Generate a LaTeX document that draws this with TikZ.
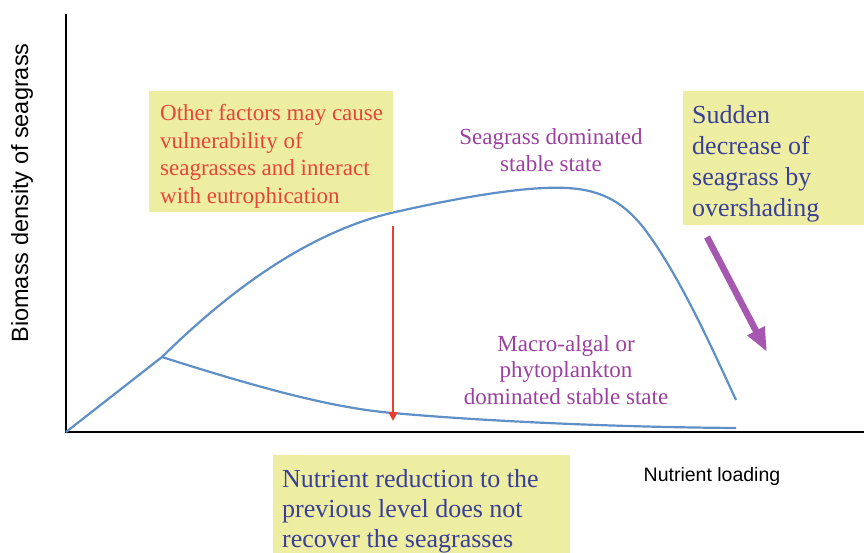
\documentclass[tikz,border=0pt]{standalone}
\usepackage{fontspec}
\setmainfont{Liberation Serif}
\newfontfamily\axisfont{Liberation Sans}
\usetikzlibrary{arrows.meta}
\definecolor{boxyellow}{HTML}{EEEEA2}
\definecolor{redtxt}{HTML}{E8443A}
\definecolor{bluetxt}{HTML}{3A3F98}
\definecolor{purptxt}{HTML}{9A409E}
\definecolor{curveblue}{HTML}{5E8FC6}
\definecolor{arrowpurp}{HTML}{A657B0}
\definecolor{arrowred}{HTML}{E8402F}
\tikzset{
  notebox/.style={fill=boxyellow, inner sep=0pt, anchor=north west},
  notetext/.style={anchor=north west, align=left, inner sep=0pt},
  curve/.style={draw=curveblue, line width=2.2pt},
  axis/.style={draw=black, line width=2pt}
}
\begin{document}
\begin{tikzpicture}[x=1pt,y=-1pt]
\useasboundingbox (0,0) rectangle (864,553);
% axes
\coordinate (o) at (66,432);
\coordinate (ytop) at (66,14);
\coordinate (xend) at (864,432);
\draw[axis] (ytop) -- (o) -- (xend);
% curves
\coordinate (fork) at (162,357);
\coordinate (upend) at (736,400);
\coordinate (lowend) at (736,428);
\draw[curve] (o) -- (fork)
  .. controls (220,300) and (300,235) .. (391,213)
  .. controls (470,195) and (530,186) .. (567,188)
  .. controls (605,190) and (625,205) .. (643,227)
  .. controls (680,275) and (715,355) .. (upend);
\draw[curve] (fork) .. controls (250,385) and (330,408) .. (393,413)
  .. controls (470,420) and (600,427) .. (lowend);
% boxes
\node[notebox, minimum width=244pt, minimum height=121pt] (b1) at (149,91) {};
\node[notetext, text=redtxt, font=\fontsize{23}{27.7}\selectfont] (t1) at (160,104)
  {Other factors may cause\\vulnerability of\\seagrasses and interact\\with eutrophication};
\node[notebox, minimum width=181pt, minimum height=134pt] (b2) at (683,91) {};
\node[notetext, text=bluetxt, font=\fontsize{26}{31}\selectfont] (t2) at (692,105)
  {Sudden\\decrease of\\seagrass by\\overshading};
\node[notebox, minimum width=297pt, minimum height=98pt] (b3) at (273,455) {};
\node[notetext, text=bluetxt, font=\fontsize{26}{30}\selectfont] (t3) at (282,469)
  {Nutrient reduction to the\\previous level does not\\recover the seagrasses};
% state labels
\node[align=center, text=purptxt, font=\fontsize{23}{26.5}\selectfont, inner sep=0pt] (s1) at (551,150)
  {Seagrass dominated\\stable state};
\node[align=center, text=purptxt, font=\fontsize{23}{26.8}\selectfont, inner sep=0pt] (s2) at (566,370)
  {Macro-algal or\\phytoplankton\\dominated stable state};
% axis labels
\node[font=\axisfont\fontsize{19.5}{22}\selectfont, inner sep=0pt] (xl) at (712,476) {Nutrient loading};
\node[font=\axisfont\fontsize{23.5}{26}\selectfont, inner sep=0pt, rotate=90] (yl) at (22,193) {Biomass density of seagrass};
% arrows
\coordinate (ra) at (393,226);
\coordinate (rb) at (393,421);
\draw[draw=arrowred, line width=2.2pt, -{Triangle[length=9pt,width=9pt]}] (ra) -- (rb);
\coordinate (pa) at (707,237);
\coordinate (pb) at (767,352);
\draw[draw=arrowpurp, line width=6.5pt, -{Triangle[length=24pt,width=18pt]}] (pa) -- (pb);
\end{tikzpicture}
\end{document}
